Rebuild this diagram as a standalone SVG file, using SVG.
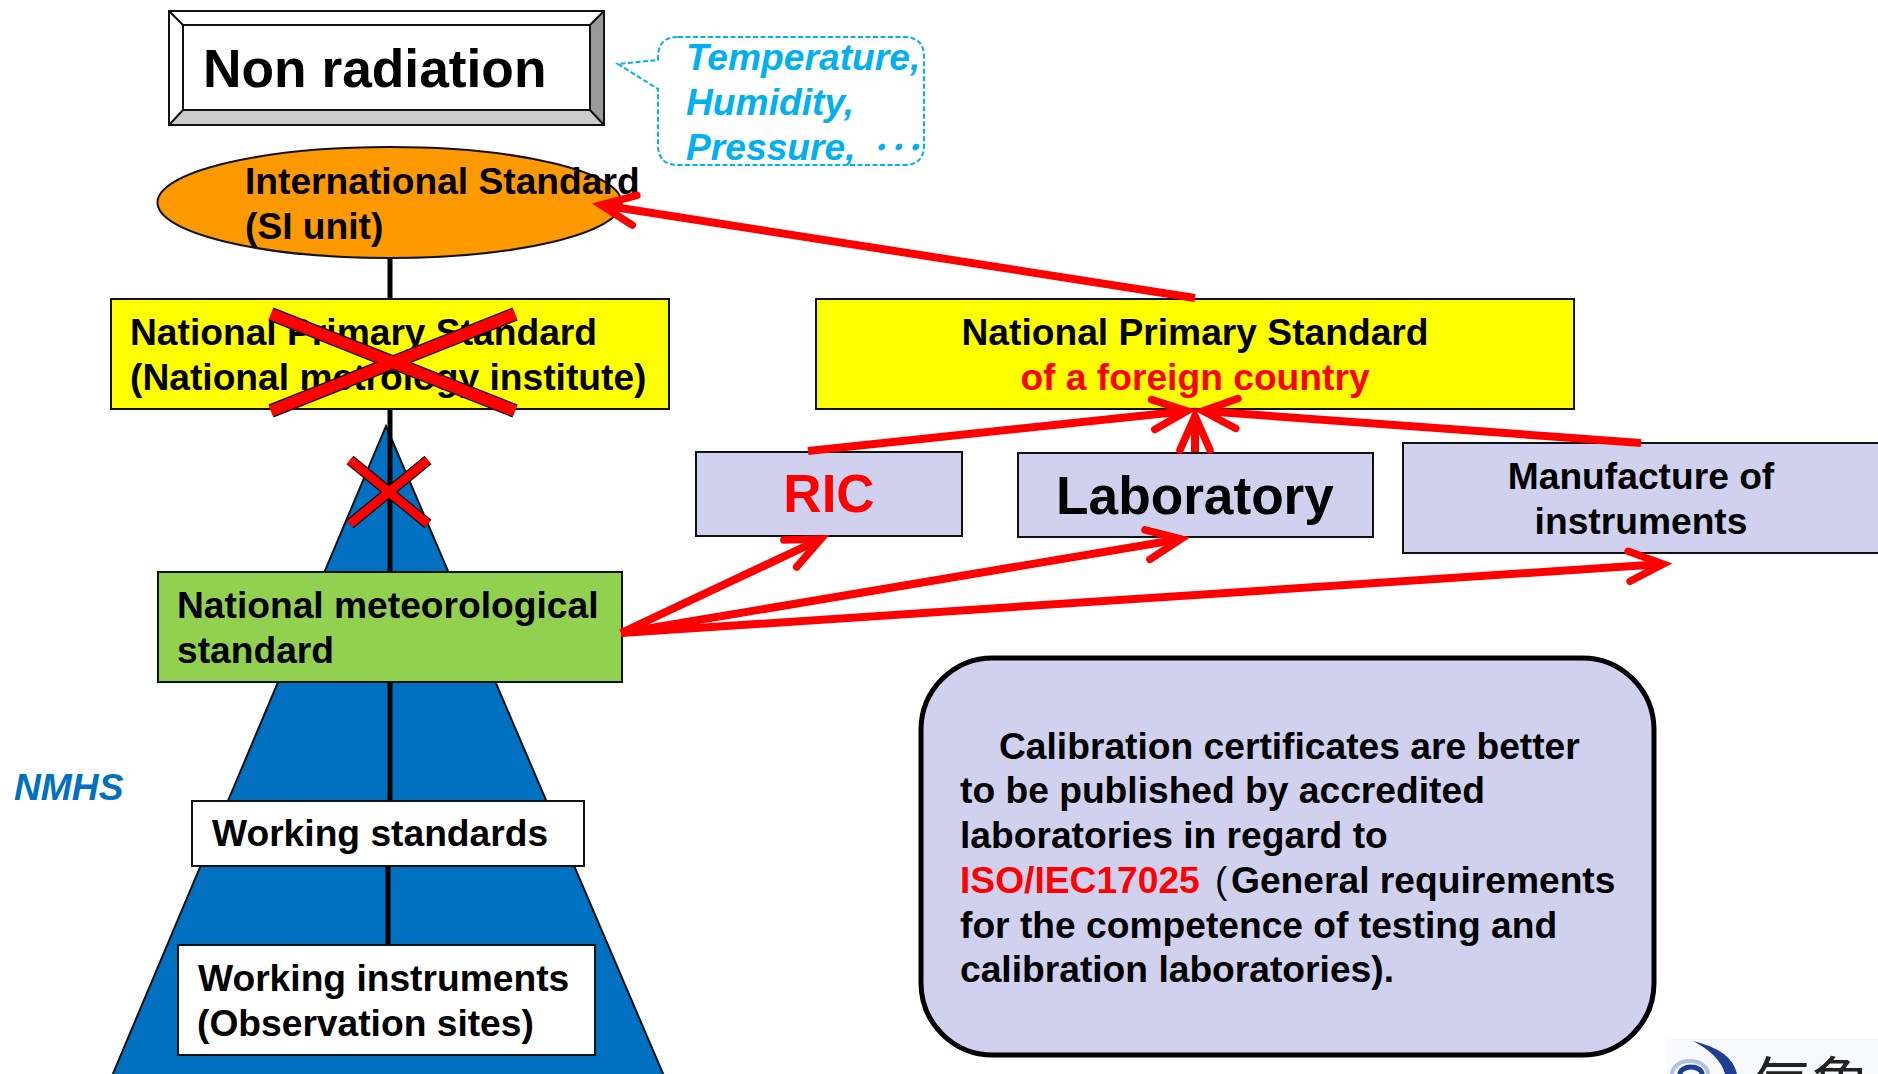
<svg xmlns="http://www.w3.org/2000/svg" width="1878" height="1074" viewBox="0 0 1878 1074">
<style>
text{font-family:"Liberation Sans","Noto Sans CJK JP",sans-serif;font-weight:700;font-size:37.2px;fill:#000}
.box{stroke:#111;stroke-width:2}
.lav{fill:#CFD1EF}
.yel{fill:#FFFF00}
.mid{text-anchor:middle}
.cy{font-style:italic;fill:#00B0F0}
.stem{stroke:#000;stroke-width:5;fill:none}
.arrow{stroke:#FF0000;stroke-width:8;fill:none;marker-end:url(#head)}
</style>
<defs>
<marker id="head" markerUnits="userSpaceOnUse" markerWidth="60" markerHeight="60" refX="40" refY="30" viewBox="0 0 60 60" orient="auto"><path d="M6,15 L40,30 L6,45" fill="none" stroke="#FF0000" stroke-width="7.5" stroke-linecap="round" stroke-linejoin="miter"/></marker>
</defs>
<rect width="1878" height="1074" fill="#fff"/>
<g id="pyramid"><path d="M386,426 L664,1076 L112,1076 Z" fill="#0070C0" stroke="#111" stroke-width="2"/></g>
<g id="stems">
<path class="stem" d="M390,258V300M390,409V572M390,683V800M388,866V945"/>
</g>
<g id="non-radiation">
<rect x="169" y="11" width="435" height="114" fill="#fff"/>
<path d="M590,25 L604,11 V125 L590,110 Z" fill="#999"/>
<path d="M183,110 H590 L604,125 H169 Z" fill="#ccc"/>
<path d="M169,11 L183,25 M604,11 L590,25 M169,125 L183,110 M604,125 L590,110" stroke="#111" stroke-width="2" fill="none"/>
<rect x="169" y="11" width="435" height="114" fill="none" class="box"/>
<rect x="183" y="25" width="407" height="85" fill="none" class="box"/>
<text x="203" y="87" style="font-size:53.3px">Non radiation</text>
</g>
<g id="callout">
<path d="M678,37 H904 Q924,37 924,57 V145 Q924,165 904,165 H678 Q658,165 658,145 V89 L618,64 L658,60 V57 Q658,37 678,37 Z" fill="#fff" stroke="#00B0F0" stroke-width="2" stroke-dasharray="5 2.5"/>
<text class="cy" x="686" y="70">Temperature,</text>
<text class="cy" x="686" y="115">Humidity,</text>
<text class="cy" x="686" y="160">Pressure,</text>
<text class="cy" x="870" y="160" style="font-size:34px">･･･</text>
</g>
<g id="international-standard">
<ellipse cx="389.5" cy="202.5" rx="232" ry="55.5" fill="#FF9900" stroke="#111" stroke-width="2"/>
<text x="245" y="194">International Standard</text>
<text x="245" y="239">(SI unit)</text>
</g>
<g id="national-primary">
<rect class="box yel" x="111" y="299" width="558" height="110"/>
<text x="130" y="345">National Primary Standard</text>
<text x="130" y="390">(National metrology institute)</text>
</g>
<g id="foreign-primary">
<rect class="box yel" x="816" y="299" width="758" height="110"/>
<text class="mid" x="1195" y="345">National Primary Standard</text>
<text class="mid" x="1195" y="390" style="fill:#FF0000">of a foreign country</text>
</g>
<g id="cross-large">
<path d="M271,314 L515,411 M515,314 L271,411" stroke="#111" stroke-width="14" fill="none"/>
<path d="M271,314 L515,411 M515,314 L271,411" stroke="#FF0000" stroke-width="11.5" fill="none"/>
</g>
<g id="cross-small">
<path d="M350,460 L428,524 M428,460 L350,524" stroke="#111" stroke-width="11" fill="none"/>
<path d="M350,460 L428,524 M428,460 L350,524" stroke="#FF0000" stroke-width="8.5" fill="none"/>
</g>
<g id="ric">
<rect class="box lav" x="696" y="452" width="266" height="84"/>
<text class="mid" x="829" y="512" style="font-size:53px;fill:#FF0000">RIC</text>
</g>
<g id="laboratory">
<rect class="box lav" x="1018" y="453" width="355" height="84"/>
<text class="mid" x="1195" y="514" style="font-size:53.2px">Laboratory</text>
</g>
<g id="manufacture">
<rect class="box lav" x="1403" y="443" width="480" height="110"/>
<text class="mid" x="1641" y="489">Manufacture of</text>
<text class="mid" x="1641" y="534">instruments</text>
</g>
<g id="national-meteorological">
<rect class="box" x="158" y="572" width="464" height="110" fill="#92D050"/>
<text x="177" y="618">National meteorological</text>
<text x="177" y="663">standard</text>
</g>
<g id="nmhs"><text x="14" y="800" style="font-style:italic;fill:#0070C0">NMHS</text></g>
<g id="working-standards">
<rect class="box" x="192" y="801" width="392" height="65" fill="#fff"/>
<text x="212" y="846">Working standards</text>
</g>
<g id="working-instruments">
<rect class="box" x="178" y="945" width="417" height="110" fill="#fff"/>
<text x="198" y="991">Working instruments</text>
<text x="197" y="1036">(Observation sites)</text>
</g>
<g id="note">
<rect x="921" y="658" width="733" height="397" rx="72" class="lav" stroke="#000" stroke-width="5"/>
<text x="999" y="759">Calibration certificates are better</text>
<text x="960" y="803">to be published by accredited</text>
<text x="960" y="848">laboratories in regard to</text>
<text x="960" y="893"><tspan style="fill:#FF0000">ISO/IEC17025</tspan></text>
<text x="1215" y="893" style="font-weight:400">(</text>
<text x="1231" y="893">General requirements</text>
<text x="960" y="938">for the competence of testing and</text>
<text x="960" y="982">calibration laboratories).</text>
</g>
<g id="logo">
<rect x="1667" y="1039" width="211" height="35" fill="#F7F9FB"/>
<path d="M1693,1041 Q1732,1050 1737,1074 H1725 Q1720,1055 1693,1041 Z" fill="#1F3F94"/>
<path d="M1672,1074 A18,13 0 0 1 1708,1074" fill="none" stroke="#B4C2DE" stroke-width="4"/>
<path d="M1680,1074 A11,7 0 0 1 1702,1074" fill="none" stroke="#1F3F94" stroke-width="5"/>
<text x="1751" y="1107" style="font-size:60px;font-weight:400;fill:#222">气象局</text>
</g>
<g id="connectors">
<path class="arrow" d="M1195,298 L601,205"/>
<path class="arrow" d="M808,451 L1187,411"/>
<path class="arrow" d="M1195,452 V416"/>
<path class="arrow" d="M1641,443 L1203,411"/>
<path class="arrow" d="M621,633 L821,539"/>
<path class="arrow" d="M621,633 L1181,539"/>
<path class="arrow" d="M621,633 L1663,564"/>
</g>
</svg>
